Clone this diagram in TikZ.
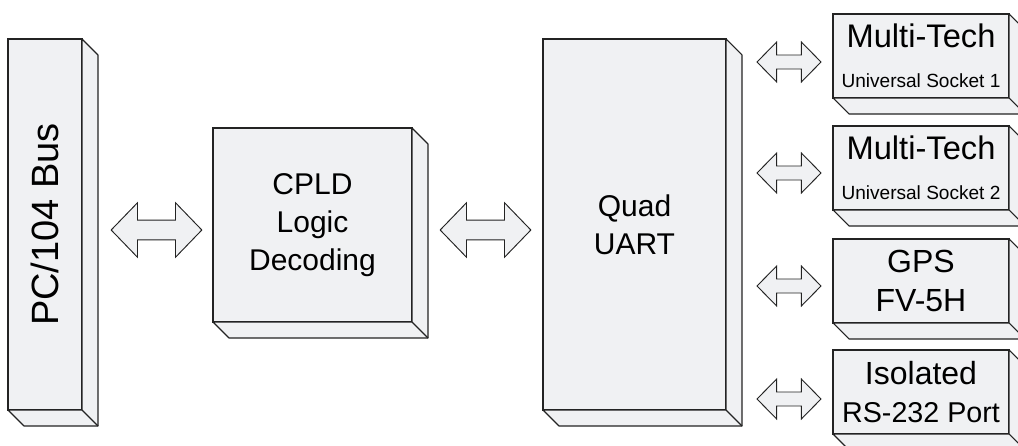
\documentclass[tikz,border=0pt]{standalone}
\usepackage{fontspec}
\setmainfont{Liberation Sans}
\usetikzlibrary{shapes.arrows,calc}
\definecolor{boxfill}{RGB}{240,241,243}
\definecolor{boxline}{RGB}{35,35,35}

\tikzset{
  block/.style={draw=boxline,fill=boxfill,line width=0.8pt,inner sep=0pt,outer sep=0pt,align=center},
  face/.style={draw=boxline,fill=boxfill,line width=0.8pt,line join=round},
  link/.style={double arrow,draw=boxline,fill=boxfill,line width=0.7pt,inner xsep=0pt},
  biglink/.style={link,inner ysep=7.1pt,minimum height=68pt,double arrow head extend=13pt,double arrow tip angle=92},
  smalllink/.style={link,inner ysep=4.9pt,minimum height=48pt,double arrow head extend=9.7pt,double arrow tip angle=91},
  sidebox/.style={block,minimum width=132pt,minimum height=63pt}
}

\begin{document}
\begin{tikzpicture}[x=0.75pt,y=-0.75pt]
\useasboundingbox (0,0) rectangle (1018,446);

% Main blocks
\node[block,minimum width=55.5pt,minimum height=278.25pt,font=\fontsize{28.5}{28.5}\selectfont] (bus) at (45,224.5) {\rotatebox{90}{PC/104 Bus}};
\node[block,minimum width=149.25pt,minimum height=145.5pt,font=\fontsize{22.5}{28.5}\selectfont] (cpld) at (312.5,225) {CPLD\\Logic\\Decoding};
\node[block,minimum width=137.25pt,minimum height=278.25pt,font=\fontsize{22.5}{28.5}\selectfont] (uart) at (634.5,224.5) {Quad\\UART};

% Peripherals
\node[sidebox] (mt1) at (921,56) {\fontsize{24.5}{24}\selectfont Multi-Tech\\[18pt]\fontsize{14.3}{14}\selectfont Universal Socket 1};
\node[sidebox] (mt2) at (921,168) {\fontsize{24.5}{24}\selectfont Multi-Tech\\[18pt]\fontsize{14.3}{14}\selectfont Universal Socket 2};
\node[sidebox,font=\fontsize{24}{29.5}\selectfont] (gps) at (921,281) {GPS\\FV-5H};
\node[sidebox] (iso) at (921,392) {\fontsize{24}{24}\selectfont Isolated\\[12pt]\fontsize{21.5}{24}\selectfont RS-232 Port};

% Depth faces
\foreach \n in {bus,cpld,uart,mt1,mt2,gps,iso}{
  \draw[face] (\n.south west) -- ++(16,16) -- ($(\n.south east)+(16,16)$)
    -- ($(\n.north east)+(16,16)$) -- (\n.north east) -- (\n.south east) -- cycle;
  \draw[face] (\n.south east) -- ++(16,16);
}

% Links
\node[biglink] (l1) at (156.5,230) {};
\node[biglink] (l2) at (485.5,230) {};
\node[smalllink] (l3) at (789,62) {};
\node[smalllink] (l4) at (789,173) {};
\node[smalllink] (l5) at (789,286) {};
\node[smalllink] (l6) at (789,399) {};

\end{tikzpicture}
\end{document}
